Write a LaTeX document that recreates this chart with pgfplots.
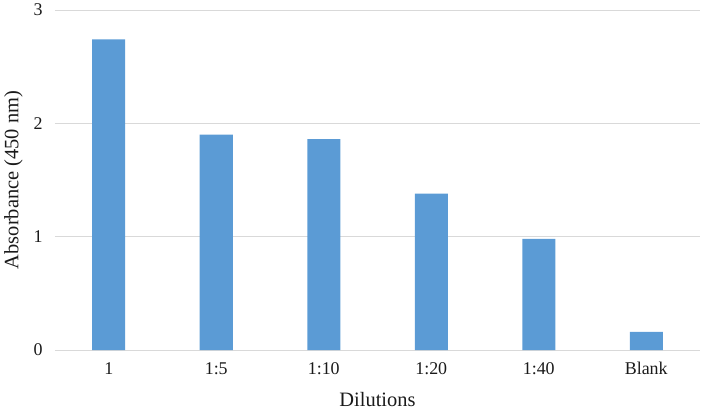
\documentclass[border=0pt]{standalone}
\usepackage{fontspec}
\setmainfont{Liberation Serif}
\usepackage{pgfplots}
\pgfplotsset{compat=1.18}
\definecolor{barblue}{HTML}{5B9BD5}
\definecolor{gridgray}{HTML}{D9D9D9}
\definecolor{txt}{HTML}{1A1A1A}
\begin{document}
\begin{tikzpicture}
\begin{axis}[
    scale only axis,
    width=645bp, height=340bp,
    ybar, bar width=33bp, bar shift=0pt,
    xmin=-0.5, xmax=5.5,
    ymin=0, ymax=3,
    xtick=data,
    xticklabels={1,1:5,1:10,1:20,1:40,Blank},
    ytick={0,1,2,3},
    ymajorgrids,
    grid style={gridgray, line width=0.9pt},
    axis line style={draw=none},
    major tick length=0pt,
    /pgf/number format/assume math mode=true,
    ticklabel style={font=\fontsize{18}{20}\selectfont, text=txt},
    yticklabel style={xshift=-9bp},
    xticklabel style={yshift=-9bp},
    xlabel={Dilutions},
    ylabel={Absorbance (450 nm)},
    label style={font=\fontsize{20.5}{22}\selectfont, text=txt},
    xlabel style={at={(axis description cs:0.5,-0.1676)}, anchor=base},
    ylabel style={at={(axis description cs:-0.0643,0.5)}, anchor=center},
    clip=false,
]
\addplot[fill=barblue, draw=none] coordinates {
    (0,2.74) (1,1.90) (2,1.86) (3,1.38) (4,0.98) (5,0.16)
};
\coordinate (sw) at (rel axis cs:0,0);
\coordinate (ne) at (rel axis cs:1,1);
\end{axis}
\pgfresetboundingbox
\path[use as bounding box] ([shift={(-55bp,-64bp)}]sw) rectangle ([shift={(9bp,10bp)}]ne);
\end{tikzpicture}
\end{document}
